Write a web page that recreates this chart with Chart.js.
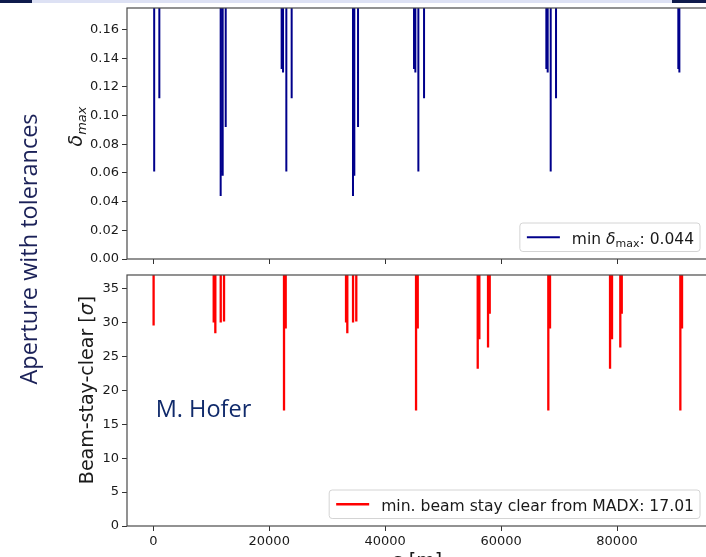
<!DOCTYPE html>
<html>
<head>
<meta charset="utf-8">
<title>Aperture with tolerances</title>
<script src="https://cdn.jsdelivr.net/npm/chart.js@4.4.0/dist/chart.umd.min.js"></script>
<style>
html, body { margin: 0; padding: 0; width: 706px; height: 557px; overflow: hidden; background: #fff; }
canvas { position: absolute; left: 0; }
#delta-canvas { top: 0; }
#bsc-canvas { top: 262px; }
.strip { position: absolute; top: 0; height: 3px; z-index: 2; }
#strip-mid { left: 0; width: 706px; background: #dde1f4; }
#strip-l { left: 0; width: 32px; background: #0f1b4c; }
#strip-r { left: 672px; width: 34px; background: #0f1b4c; }
#side-title {
    position: absolute; left: -122px; top: 234px; width: 300px; height: 30px;
    line-height: 30px; text-align: center; white-space: nowrap;
    font-family: "Open Sans", sans-serif; font-size: 23.5px; color: #1b2158;
    transform: rotate(-90deg);
}
#author {
    position: absolute; left: 155.7px; top: 393px; height: 30px; line-height: 30px;
    font-family: "Open Sans", sans-serif; font-size: 23.5px; color: #102a6b; white-space: nowrap;
}
</style>
</head>
<body>
<canvas id="delta-canvas" width="712" height="272"></canvas>
<canvas id="bsc-canvas" width="712" height="314"></canvas>
<div class="strip" id="strip-mid"></div>
<div class="strip" id="strip-l"></div>
<div class="strip" id="strip-r"></div>
<div id="side-title">Aperture with tolerances</div>
<div id="author">M. Hofer</div>
<script>
// s positions [m] and ring ticks
var xTicks = [0, 20000, 40000, 60000, 80000];
var xMin = -4540;
var xMax = 95700;

// top panel: momentum acceptance delta_max
var deltaTicks = [0, 0.02, 0.04, 0.06, 0.08, 0.10, 0.12, 0.14, 0.16];
var deltaTop = 0.175;
var deltaCeil = 0.25; // value outside the plotted range between the dips
var deltaS = [150, 1040, 11620, 11970, 12490, 22140, 22380, 22950, 23870,
    34450, 34680, 35320, 44980, 45210, 45730, 46710,
    67810, 68040, 68560, 69480, 90580, 90760];
var deltaMin = [0.061, 0.112, 0.044, 0.058, 0.092, 0.1325, 0.130, 0.061, 0.112,
    0.044, 0.058, 0.092, 0.1325, 0.130, 0.061, 0.112,
    0.1325, 0.130, 0.061, 0.112, 0.1325, 0.130];

// bottom panel: beam stay clear
var bscTicks = [0, 5, 10, 15, 20, 25, 30, 35];
var bscTop = 37;
var bscCeil = 45;
var bscS = [50, 10420, 10700, 11630, 12200, 22550, 22840,
    33250, 33470, 34460, 35020, 45330, 45620,
    55970, 56250, 57750, 58040, 68150, 68440,
    78800, 79140, 80570, 80820, 90930, 91220];
var bscMin = [29.56, 30.0, 28.4, 30.0, 30.15, 17.01, 29.1,
    30.0, 28.4, 30.0, 30.15, 17.01, 29.1,
    23.17, 27.54, 26.3, 31.3, 17.01, 29.1,
    23.17, 27.54, 26.3, 31.3, 17.01, 29.1];

var FONT = '"DejaVu Sans", sans-serif';
var textColor = '#1a1a1a';
var spineColor = '#4a4a4a';

var spikes = function(sArr, minArr, ceil) {
    var pts = [];
    for (var i = 0; i < sArr.length; i++) {
        pts.push({x: sArr[i], y: ceil});
        pts.push({x: sArr[i], y: minArr[i]});
        pts.push({x: sArr[i], y: ceil});
    }
    return pts;
};

var measureSegs = function(ctx, segs) {
    var w = 0;
    segs.forEach(function(s) {
        ctx.font = s.font;
        w += ctx.measureText(s.text).width;
    });
    return w;
};
var drawSegs = function(ctx, segs, x, y) {
    segs.forEach(function(s) {
        ctx.font = s.font;
        ctx.fillText(s.text, x, y + (s.dy || 0));
        x += ctx.measureText(s.text).width;
    });
};

// spines, rotated y label and legend box, drawn on top of the lines
var decor = function(cfg) {
    return {
        id: 'decor',
        afterDatasetsDraw: function(chart) {
            var a = chart.chartArea, ctx = chart.ctx;
            ctx.save();
            ctx.strokeStyle = spineColor;
            ctx.lineWidth = 1.2;
            ctx.strokeRect(a.left, a.top, a.right - a.left, a.bottom - a.top);

            // y label
            ctx.fillStyle = textColor;
            ctx.textBaseline = 'alphabetic';
            ctx.textAlign = 'left';
            var w = measureSegs(ctx, cfg.ylabel);
            ctx.save();
            ctx.translate(cfg.ylabelX, cfg.ylabelY);
            ctx.rotate(-Math.PI / 2);
            drawSegs(ctx, cfg.ylabel, -w / 2, 0);
            ctx.restore();

            // legend
            var tw = measureSegs(ctx, cfg.legend);
            var bw = 7 + 33 + 12 + tw + 6, bh = 28.5;
            var bx = a.right - 8 - bw, by = a.bottom - 7.5 - bh;
            ctx.beginPath();
            ctx.roundRect(bx, by, bw, bh, 3);
            ctx.fillStyle = 'rgba(255,255,255,0.85)';
            ctx.fill();
            ctx.strokeStyle = '#d4d4d4';
            ctx.lineWidth = 1;
            ctx.stroke();
            ctx.beginPath();
            ctx.moveTo(bx + 7, by + bh / 2);
            ctx.lineTo(bx + 40, by + bh / 2);
            ctx.strokeStyle = cfg.color;
            ctx.lineWidth = cfg.lineWidth;
            ctx.stroke();
            ctx.fillStyle = textColor;
            drawSegs(ctx, cfg.legend, bx + 52, by + bh - 8);
            ctx.restore();
        }
    };
};

var makeChart = function(canvas, o) {
    return new Chart(canvas, {
        type: 'line',
        data: {
            datasets: [{
                label: o.label,
                data: o.points,
                borderColor: o.color,
                borderWidth: o.lineWidth,
                pointRadius: 0,
                tension: 0,
                fill: false,
                clip: 0
            }]
        },
        options: {
            responsive: false,
            animation: false,
            devicePixelRatio: 1,
            layout: {padding: {top: o.padTop, right: 4, left: 0, bottom: 0}},
            plugins: {legend: {display: false}, tooltip: {enabled: false}},
            scales: {
                x: {
                    type: 'linear',
                    min: xMin,
                    max: xMax,
                    afterBuildTicks: function(axis) {
                        axis.ticks = xTicks.map(function(v) { return {value: v}; });
                    },
                    afterFit: function(axis) {
                        axis.height = o.xHeight;
                        axis.paddingLeft = 0;
                        axis.paddingRight = 0;
                    },
                    grid: {drawOnChartArea: false, drawTicks: true, tickLength: 5, color: '#333'},
                    border: {display: false},
                    ticks: {
                        display: o.xLabels,
                        padding: 3,
                        color: textColor,
                        font: {family: FONT, size: 13},
                        maxRotation: 0,
                        callback: function(v) { return String(v); }
                    },
                    title: {
                        display: o.xLabels,
                        text: 's [m]',
                        color: textColor,
                        font: {family: FONT, size: 19},
                        padding: {top: 0, bottom: 3}
                    }
                },
                y: {
                    type: 'linear',
                    min: 0,
                    max: o.yTop,
                    afterBuildTicks: function(axis) {
                        axis.ticks = o.yTicks.map(function(v) { return {value: v}; });
                    },
                    afterFit: function(axis) {
                        axis.width = 127;
                        axis.paddingTop = 0;
                        axis.paddingBottom = 0;
                    },
                    grid: {drawOnChartArea: false, drawTicks: true, tickLength: 5, color: '#333'},
                    border: {display: false},
                    ticks: {
                        padding: 3,
                        color: textColor,
                        font: {family: FONT, size: 13},
                        callback: o.yFormat
                    }
                }
            }
        },
        plugins: [decor(o.decor)]
    });
};

var initCharts = function() {
    makeChart(document.getElementById('delta-canvas'), {
        label: 'min \u03b4max: 0.044',
        points: spikes(deltaS, deltaMin, deltaCeil),
        color: '#00008b',
        lineWidth: 2,
        padTop: 8,
        xHeight: 13,
        xLabels: false,
        yTop: deltaTop,
        yTicks: deltaTicks,
        yFormat: function(v) { return v.toFixed(2); },
        decor: {
            ylabelX: 82,
            ylabelY: 126.5,
            ylabel: [
                {text: '\u03b4', font: 'italic 19px ' + FONT},
                {text: 'max', font: 'italic 13px ' + FONT, dy: 3.5}
            ],
            legend: [
                {text: 'min ', font: '15.5px ' + FONT},
                {text: '\u03b4', font: 'italic 15.5px ' + FONT},
                {text: 'max', font: '11px ' + FONT, dy: 3},
                {text: ': 0.044', font: '15.5px ' + FONT}
            ],
            color: '#00008b',
            lineWidth: 2
        }
    });

    makeChart(document.getElementById('bsc-canvas'), {
        label: 'min. beam stay clear from MADX: 17.01',
        points: spikes(bscS, bscMin, bscCeil),
        color: '#ff0000',
        lineWidth: 2.3,
        padTop: 13,
        xHeight: 50,
        xLabels: true,
        yTop: bscTop,
        yTicks: bscTicks,
        yFormat: function(v) { return String(v); },
        decor: {
            ylabelX: 93.3,
            ylabelY: 128,
            ylabel: [
                {text: 'Beam-stay-clear [', font: '19px ' + FONT},
                {text: '\u03c3', font: 'italic 19px ' + FONT},
                {text: ']', font: '19px ' + FONT}
            ],
            legend: [
                {text: 'min. beam stay clear from MADX: 17.01', font: '15.6px ' + FONT}
            ],
            color: '#ff0000',
            lineWidth: 2.3
        }
    });
};

window.onload = initCharts;
</script>
</body>
</html>
